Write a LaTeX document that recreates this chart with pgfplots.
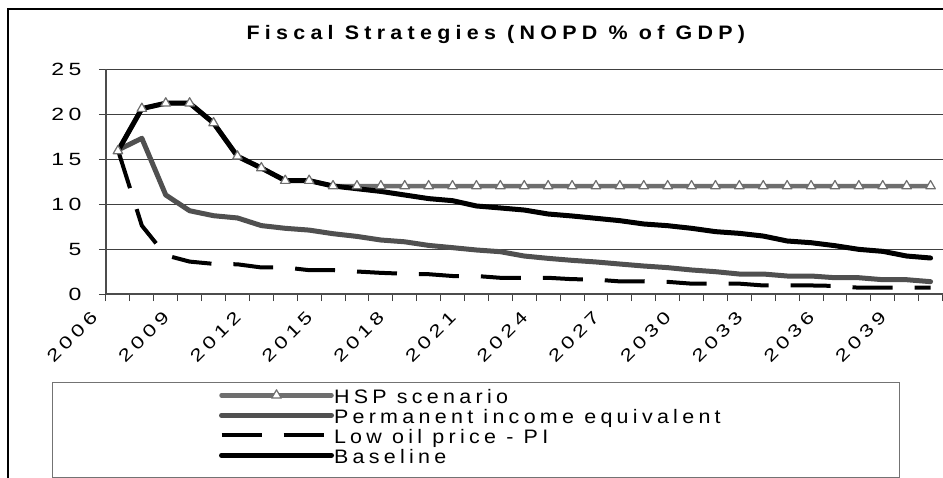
\documentclass[border=0pt]{standalone}
\usepackage{fontspec}
\setmainfont{Liberation Sans}
\newfontfamily\tickfont{Liberation Sans}[FakeStretch=1.3, LetterSpace=26]
\newfontfamily\legfont{Liberation Sans}[FakeStretch=1.1, LetterSpace=22]
\newfontfamily\titfont{Liberation Sans Bold}[FakeStretch=1.1, LetterSpace=27]
\usepackage{pgfplots}
\usepackage{pgfplotstable}
\pgfplotsset{compat=1.18}
\definecolor{hspgray}{HTML}{6E6E6E}
\definecolor{pigray}{HTML}{505050}
\pgfplotstableread{
i hsp pi low base
0 15.9 16.0 16.0 15.9
1 20.6 17.3 7.6 20.6
2 21.2 11.0 4.3 21.2
3 21.2 9.25 3.6 21.2
4 19.0 8.7 3.35 19.0
5 15.3 8.45 3.3 15.3
6 14.0 7.6 2.95 14.0
7 12.6 7.3 2.95 12.6
8 12.6 7.1 2.65 12.6
9 12.0 6.7 2.65 12.0
10 12.0 6.4 2.5 11.7
11 12.0 6.0 2.35 11.4
12 12.0 5.8 2.25 11.0
13 12.0 5.4 2.2 10.6
14 12.0 5.15 2.0 10.37
15 12.0 4.89 2.0 9.78
16 12.0 4.70 1.8 9.56
17 12.0 4.22 1.8 9.33
18 12.0 3.96 1.8 8.89
19 12.0 3.74 1.65 8.67
20 12.0 3.56 1.6 8.41
21 12.0 3.33 1.4 8.15
22 12.0 3.11 1.4 7.78
23 12.0 2.93 1.35 7.59
24 12.0 2.67 1.15 7.30
25 12.0 2.48 1.15 6.93
26 12.0 2.22 1.15 6.74
27 12.0 2.22 0.95 6.44
28 12.0 2.0 0.95 5.89
29 12.0 2.0 0.95 5.70
30 12.0 1.81 0.9 5.37
31 12.0 1.81 0.7 4.96
32 12.0 1.59 0.7 4.74
33 12.0 1.59 0.7 4.22
34 12.0 1.37 0.7 4.0
}\data
\begin{document}
\begin{tikzpicture}
\draw[black, line width=1.5bp] (8bp,-490bp) -- (8bp,-9bp) -- (960bp,-9bp);
\draw[black!55, line width=1bp] (52bp,-382bp) rectangle (899bp,-477bp);
\begin{axis}[
  scale only axis, width=836.5bp, height=225bp,
  at={(106bp,-294bp)}, anchor=south west,
  xmin=-0.5, xmax=34.5, ymin=0, ymax=25,
  axis lines=left, axis line style={-, draw=black!70, line width=1.5bp},
  tick align=outside, major tick length=7bp,
  tick style={black!75, line width=1bp},
  xtick={-0.5,0.5,...,34.5}, xticklabels={},
  extra x ticks={0,3,6,9,12,15,18,21,24,27,30,33},
  extra x tick labels={2006,2009,2012,2015,2018,2021,2024,2027,2030,2033,2036,2039},
  extra x tick style={major tick length=0pt, grid=none,
    tick label style={rotate=45, anchor=east, xshift=-28bp, yshift=2bp}},
  ytick={0,5,...,25},
  ymajorgrids, grid style={black!75, line width=1bp},
  /pgf/number format/assume math mode=true,
  yticklabel style={font=\tickfont\fontsize{17.7bp}{20bp}\selectfont, anchor=east, xshift=-14bp},
  xticklabel style={font=\tickfont\fontsize{17.2bp}{20bp}\selectfont},
  title={Fiscal Strategies (NOPD \% of GDP)},
  title style={font=\titfont\fontsize{19.5bp}{22bp}\selectfont, at={(axis description cs:0.466,1.1036)}, anchor=base},
  legend style={at={(axis description cs:0.1351,-0.4236)}, anchor=north west,
    draw=none, fill=none, inner sep=0pt, outer sep=0pt, row sep=0pt,
    font=\legfont\fontsize{19.5bp}{20bp}\selectfont,
    nodes={inner sep=0pt, text height=14bp, text depth=6bp},
    /tikz/every even column/.append style={column sep=7bp}},
  legend cell align=left,
  legend image code/.code={\draw[mark repeat=2, mark phase=2, #1] plot coordinates {(0bp,4bp) (55bp,4bp) (110bp,4bp)};},
]
\addplot[hspgray, line width=4.5bp, line cap=round, line join=round, mark=triangle*, mark size=5.5bp,
  mark options={solid, fill=white, draw=hspgray, line width=1.2bp}] table[x=i, y=hsp] {\data};
\addlegendentry{HSP scenario}
\addplot[pigray, line width=5bp, line cap=round, line join=round] table[x=i, y=pi] {\data};
\addlegendentry{Permanent income equivalent}
\addplot[black, line width=4bp, dash pattern=on 40bp off 22bp, line join=round] table[x=i, y=low] {\data};
\addlegendentry{Low oil price - PI}
\addplot[black, line width=5bp, line cap=round, line join=round] table[x=i, y=base] {\data};
\addlegendentry{Baseline}
\end{axis}
\pgfresetboundingbox
\useasboundingbox (0bp,0bp) rectangle (943bp,-478bp);
\end{tikzpicture}
\end{document}
